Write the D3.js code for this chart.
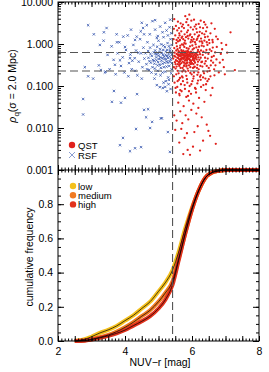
<!DOCTYPE html>
<html>
<head>
<meta charset="utf-8">
<script src="https://cdn.jsdelivr.net/npm/d3@7"></script>
<style>
body { margin: 0; background: #fff; }
text { font-family: "Liberation Sans", Arial, sans-serif; }
</style>
</head>
<body>
<div id="chart"></div>
<script>
// quiescent (QST) galaxies: [NUV-r, rho_q]
let qstPoints = [
  [5.48,0.62],[5.52,0.41],[5.55,0.88],[5.58,0.33],[5.61,0.55],[5.63,1.20],[5.66,0.27],[5.68,0.71],[5.71,0.45],[5.74,0.95],
  [5.76,0.36],[5.79,0.58],[5.81,0.22],[5.84,0.80],[5.86,0.49],[5.89,1.35],[5.91,0.31],[5.94,0.63],[5.97,0.40],[5.99,0.19],
  [6.02,0.74],[6.05,0.52],[6.08,0.29],[6.11,0.98],[6.14,0.43],[6.17,0.66],[6.20,0.25],[6.24,0.57],[6.28,0.37],[5.46,0.28],
  [5.50,0.50],[5.53,1.05],[5.57,0.23],[5.60,0.68],[5.64,0.39],[5.67,0.52],[5.70,0.17],[5.73,0.61],[5.77,0.85],[5.80,0.34],
  [5.83,0.47],[5.87,0.26],[5.90,0.77],[5.93,0.54],[5.96,1.10],[6.00,0.35],[6.03,0.46],[6.06,0.21],[6.10,0.60],[6.13,0.83],
  [6.16,0.32],[6.19,0.48],[6.23,1.15],[6.27,0.70],[5.49,0.37],[5.54,0.58],[5.59,0.46],[5.62,0.30],[5.65,0.91],[5.69,0.59],
  [5.72,0.38],[5.75,0.24],[5.78,0.51],[5.82,0.67],[5.85,0.40],[5.88,0.56],[5.92,0.44],[5.95,0.28],[5.98,0.53],[6.01,0.92],
  [6.04,0.62],[6.07,0.39],[6.12,0.50],[6.15,0.27],[6.18,0.72],[6.22,0.42],[6.26,0.18],[5.47,0.80],[5.51,0.26],[5.56,0.47],
  [5.60,0.20],[5.63,0.64],[5.67,0.42],[5.70,0.98],[5.74,0.55],[5.77,0.31],[5.81,0.43],[5.84,0.58],[5.87,0.69],[5.90,0.45],
  [5.93,0.36],[5.97,0.66],[6.00,0.51],[6.04,0.33],[6.09,0.45],[6.13,0.58],[6.18,0.38],[6.21,0.86],[6.25,0.30],[5.53,0.70],
  [5.58,0.55],[5.62,0.43],[5.68,0.35],[5.73,0.48],[5.78,0.65],[5.83,0.29],[5.88,0.44],[5.92,0.60],[5.96,0.49],[6.02,0.42],
  [6.07,0.56],[5.85,0.53],[5.80,0.52],[5.90,0.50],[5.95,0.57],[5.75,0.44],[5.65,0.51],[5.70,0.66],[6.05,0.48],[5.86,0.36],
  [5.94,0.41],
  [5.44,0.45],[5.47,0.52],[5.51,0.33],[5.54,0.29],[5.57,0.75],[5.59,0.62],[5.61,0.37],[5.64,0.81],[5.66,0.58],[5.69,0.46],
  [5.72,0.27],[5.74,0.69],[5.76,0.53],[5.79,0.40],[5.81,1.02],[5.84,0.35],[5.86,0.62],[5.89,0.23],[5.91,0.52],[5.94,0.88],
  [5.97,0.34],[5.99,0.61],[6.03,0.27],[6.06,0.79],[6.09,0.36],[6.11,0.47],[6.14,1.25],[6.17,0.55],[6.19,0.21],[6.22,0.64],
  [6.26,0.47],[6.29,0.91],[6.31,0.29],[6.34,0.66],[6.37,1.20],[6.41,0.39],[6.43,0.72],[6.46,0.22],[6.49,0.58],[6.52,1.05],
  [6.56,0.31],[6.59,0.49],[6.62,0.82],[6.66,0.25],[6.69,0.63],[6.73,0.43],[6.77,1.30],[6.83,0.36],[6.90,0.75],[6.95,0.28],
  [5.53,0.19],[5.64,0.155],[5.71,0.22],[5.83,0.175],[5.95,0.205],[6.04,0.15],[6.16,0.185],[6.24,0.165],[6.36,0.20],[6.53,0.23],
  [5.56,0.39],[5.67,0.44],[5.77,0.47],[5.85,0.44],[5.97,0.38],[6.06,0.41],[5.61,0.52],[5.71,0.55],[5.82,0.60],[5.89,0.65],
  [6.01,0.58],[6.11,0.53],[5.64,0.33],[5.76,0.30],[5.84,0.31],[5.96,0.33],[6.07,0.28],
  [5.50,1.6],[5.56,2.1],[5.62,1.8],[5.66,3.1],[5.71,1.5],[5.76,2.4],[5.80,4.6],[5.85,1.9],[5.89,2.8],[5.93,1.6],
  [5.98,3.6],[6.03,2.2],[6.08,1.7],[6.12,2.9],[6.18,1.5],[6.24,2.5],[6.30,1.8],[6.36,3.3],[6.42,2.0],[5.52,2.7],
  [5.59,1.4],[5.68,2.0],[5.74,1.3],[5.83,3.3],[5.96,2.5],[6.05,1.3],[6.15,1.9],[6.27,1.35],[6.47,1.5],[5.47,3.9],
  [5.92,5.0],[5.64,1.25],[6.20,3.0],[6.33,2.4],[5.78,1.7],[6.00,1.45],
  [5.58,1.15],[5.69,1.40],[5.79,1.20],[5.87,1.55],[5.98,1.25],[6.09,1.10],[6.21,1.60],[6.29,1.15],[6.39,1.45],[6.55,1.8],
  [6.68,2.3],[5.45,1.3],[5.73,2.9],[6.06,3.8],[6.40,2.9],[6.62,1.1],[5.61,2.4],[6.13,2.3],
  [5.46,2.3],[5.54,1.25],[5.63,1.6],[5.70,2.6],[5.77,1.05],[5.82,1.45],[5.88,2.1],[5.95,1.7],[6.02,1.15],[6.08,2.6],
  [6.16,1.35],[6.23,1.95],[6.31,1.05],[6.37,1.7],[6.45,2.5],[6.51,1.25],[6.58,3.1],[5.58,3.4],[5.86,3.9],[6.26,3.6],
  [6.32,0.55],[6.35,0.88],[6.38,0.34],[6.41,0.62],[6.44,1.1],[6.47,0.45],[6.50,0.27],[6.53,0.74],[6.57,0.40],[6.61,1.25],
  [6.65,0.52],[6.70,0.31],[6.74,0.85],[6.80,0.21],[6.86,0.58],[6.92,0.42],[6.98,0.19],[7.05,0.62],[7.15,1.9],[7.28,0.24],
  [6.34,0.22],[6.40,0.15],[6.46,0.95],[6.55,0.17],[6.63,0.36],[6.72,1.5],[6.39,0.47],[6.58,0.68],[6.88,1.05],[6.30,0.38],
  [6.44,0.30],[7.02,0.95],
  [5.46,0.17],[5.51,0.09],[5.57,0.13],[5.65,0.08],[5.72,0.16],[5.78,0.105],[5.85,0.145],[5.91,0.075],[5.98,0.11],[6.05,0.17],
  [6.11,0.085],[6.18,0.135],[6.27,0.095],[6.33,0.16],[6.42,0.11],[6.50,0.145],[6.61,0.09],[6.67,0.18],[5.62,0.065],[5.88,0.058],
  [5.48,0.12],[5.56,0.095],[5.61,0.14],[5.67,0.11],[5.73,0.13],[5.79,0.085],[5.86,0.12],[5.93,0.10],[6.01,0.13],[6.09,0.09],
  [6.16,0.115],[6.26,0.14],[6.34,0.105],[6.46,0.13],[5.52,0.07],[5.63,0.06],[5.69,0.075],[5.83,0.055],[5.97,0.065],[6.12,0.07],
  [6.21,0.052],[6.41,0.08],[6.56,0.06],[5.59,0.04],[5.75,0.033],[5.91,0.045],[6.04,0.038],[6.19,0.03],[6.37,0.042],[5.65,0.025],
  [5.81,0.02],[5.98,0.027],[6.13,0.022],[6.29,0.018],[5.54,0.015],[5.71,0.013],[5.89,0.016],[6.17,0.011],[6.44,0.012],[5.50,0.009],
  [5.68,0.0095],[5.85,0.0075],[6.07,0.008],[6.54,0.0065],[5.78,0.0058],[6.33,0.005],[5.62,0.0045],[6.03,0.0036],[6.71,0.0042],[5.87,0.003],
  [6.24,0.0029],[5.74,0.0024],[5.94,0.0023],[6.49,0.0085],[5.47,0.02]
]

// red star-forming (RSF) galaxies: [NUV-r, rho_q]
let rsfPoints = [
  [5.38,0.45],[5.35,0.78],[5.32,0.30],[5.30,0.58],[5.27,1.05],[5.25,0.38],[5.22,0.66],[5.20,0.22],[5.17,0.50],[5.15,0.92],
  [5.12,0.34],[5.10,0.61],[5.07,0.27],[5.05,0.75],[5.02,0.44],[5.00,1.20],[4.97,0.31],[4.95,0.56],[4.92,0.19],[4.90,0.70],
  [4.87,0.40],[4.85,0.95],[4.82,0.28],[4.80,0.52],[4.77,0.36],[4.75,0.82],[4.72,0.24],[4.70,0.47],[4.67,1.10],[4.64,0.33],
  [4.61,0.60],[5.39,0.25],[5.36,1.3],[5.33,0.50],[5.29,0.16],[5.26,0.72],[5.23,0.43],[5.19,0.85],[5.16,0.28],[5.13,0.55],
  [5.09,0.40],[5.06,0.18],[5.03,0.64],[4.99,0.37],[4.96,0.86],[4.93,0.48],[4.89,0.26],[4.86,0.63],[4.83,0.42],[4.79,0.21],
  [4.76,0.58],[4.73,0.39],[4.69,0.68],[4.66,0.25],[5.37,0.62],[5.34,0.38],[5.31,0.88],[5.28,0.47],[5.24,0.29],[5.21,0.55],
  [5.18,0.36],[5.14,0.72],[5.11,0.46],[5.08,0.98],[5.04,0.32],[5.01,0.53],[4.98,0.23],[4.94,0.41],[4.91,0.58],[4.88,0.34],
  [5.40,0.35],[5.40,0.55],[5.39,0.95],[5.38,0.20],[5.36,0.42],[5.34,0.68],[5.31,0.14],[5.28,0.36],[5.25,0.52],[5.22,0.13],
  [5.18,0.44],[5.12,0.21],[5.05,0.48],[4.98,0.62],[4.88,0.15],
  [5.30,0.11],[5.20,0.095],[5.36,0.085],[5.15,0.12],[4.95,0.105],[5.25,0.075],
  [4.58,0.45],[4.55,0.82],[4.52,0.28],[4.48,0.60],[4.45,1.30],[4.41,0.38],[4.37,0.18],[4.33,0.70],[4.29,0.46],[4.25,0.95],
  [4.20,0.25],[4.16,0.56],[4.12,0.35],[4.08,1.6],[4.03,0.72],[3.98,0.21],[3.93,0.48],[3.88,0.30],[3.83,1.1],[3.78,0.60],
  [3.72,0.19],[3.66,0.42],[3.60,0.88],[3.54,0.25],[3.48,0.55],[3.42,0.22],[3.36,1.2],[3.22,0.31],[4.50,0.15],[4.40,0.62],
  [4.30,0.23],[4.22,0.40],[4.10,0.17],[3.95,1.5],[3.85,0.41],[3.70,0.32],[4.57,1.7],[4.47,2.0],[4.35,1.5],[4.18,2.2],
  [3.75,1.7],[3.45,2.4],
  [5.38,1.8],[5.33,2.5],[5.28,1.6],[5.20,3.2],[5.12,1.9],[5.05,2.6],[4.98,1.55],[4.90,2.2],[4.82,3.5],[4.74,1.7],
  [4.65,2.8],[5.35,3.8],[5.15,1.45],[4.95,1.4],[5.24,2.1],
  [2.90,2.8],[3.07,1.7],[3.37,1.9],[3.25,0.95],[2.80,0.28],[3.28,0.24],[2.90,0.17],[3.05,0.15],[3.40,0.21],[3.76,1.1],
  [4.00,0.85],[4.30,1.25],[4.50,3.2],[4.54,2.4],[4.90,3.7],[4.15,0.46],
  [2.75,0.049],[2.75,0.021],[3.67,0.076],[3.61,0.042],[3.88,0.040],[4.00,0.052],[4.36,0.064],[4.57,0.027],[4.69,0.028],[4.63,0.018],
  [4.81,0.014],[4.75,0.010],[4.33,0.0095],[3.94,0.0058],[3.85,0.0039],[4.15,0.0028],[4.30,0.0033],[4.48,0.0035],[5.07,0.017],[5.04,0.094],
  [5.13,0.090],[5.10,0.017],[5.28,0.0080],[5.34,0.0027]
]

// cumulative NUV-r distributions for three density bins
let cumX      = [2.5, 2.8, 3.0, 3.25, 3.5, 3.75, 4.0, 4.25, 4.5, 4.75, 5.0, 5.2, 5.42, 5.6, 5.8, 6.0, 6.2, 6.4, 6.6, 6.8, 7.0, 7.5, 8.0]
let cumLow    = [0, 0.010, 0.025, 0.047, 0.065, 0.088, 0.119, 0.150, 0.190, 0.230, 0.290, 0.340, 0.415, 0.520, 0.660, 0.780, 0.880, 0.955, 0.985, 0.995, 1, 1, 1]
let cumMedium = [0, 0.004, 0.010, 0.022, 0.035, 0.055, 0.080, 0.110, 0.145, 0.180, 0.230, 0.280, 0.350, 0.480, 0.630, 0.770, 0.880, 0.955, 0.985, 0.995, 1, 1, 1]
let cumHigh   = [0, 0.002, 0.008, 0.018, 0.030, 0.045, 0.064, 0.090, 0.115, 0.145, 0.190, 0.240, 0.330, 0.470, 0.630, 0.770, 0.880, 0.955, 0.985, 0.995, 1, 1, 1]

let colorCut = 5.42
let rhoCuts = [0.63, 0.227]
let rhoTicks = [0.001, 0.01, 0.1, 1, 10]
let cumTicks = [0, 0.2, 0.4, 0.6, 0.8]
let xTicks = [2, 4, 6, 8]

let width = 269, height = 372
let plotL = 58, plotR = 259, plotT = 2, plotM = 170, plotB = 341

let svg = d3.select('#chart').append('svg')
    .attr('width', width)
    .attr('height', height)

let x = d3.scaleLinear().domain([2, 8]).range([plotL, plotR])
let yRho = d3.scaleLog().domain([0.001, 10]).range([plotM, plotT])
let yCum = d3.scaleLinear().domain([0, 1]).range([plotB, plotM])

// scatter: RSF crosses, then QST dots
svg.append('g').selectAll('path')
  .data(rsfPoints)
  .enter()
  .append('path')
    .attr('transform', d => `translate(${x(d[0])},${yRho(d[1])})`)
    .attr('d', 'M-1.2,-1.2L1.2,1.2M-1.2,1.2L1.2,-1.2')
    .attr('stroke', '#3354ad')
    .attr('stroke-width', 0.8)

svg.append('g').selectAll('circle')
  .data(qstPoints)
  .enter()
  .append('circle')
    .attr('cx', d => x(d[0]))
    .attr('cy', d => yRho(d[1]))
    .attr('r', 1.15)
    .attr('fill', '#e0211c')

// cumulative curves: thick coloured band with a thin black line on top
let series = [
  {name: 'low', vals: cumLow, color: '#f4c01c'},
  {name: 'medium', vals: cumMedium, color: '#f07a22'},
  {name: 'high', vals: cumHigh, color: '#e2321c'}
]
let line = d3.line()
  .x(d => x(d[0]))
  .y(d => yCum(d[1]))
  .curve(d3.curveMonotoneX)

series.forEach(s => {
  svg.append('path')
    .datum(cumX.map((v, i) => [v, s.vals[i]]))
    .attr('d', line)
    .attr('fill', 'none')
    .attr('stroke', s.color)
    .attr('stroke-width', 4)
})
series.forEach(s => {
  svg.append('path')
    .datum(cumX.map((v, i) => [v, s.vals[i]]))
    .attr('d', line)
    .attr('fill', 'none')
    .attr('stroke', '#000')
    .attr('stroke-width', 0.7)
})

// dashed cut lines
let dash = '8,4'
svg.append('line')
  .attr('x1', x(colorCut)).attr('x2', x(colorCut))
  .attr('y1', plotT).attr('y2', plotB)
  .attr('stroke', '#555').attr('stroke-width', 1.1).attr('stroke-dasharray', dash)
svg.selectAll('hcut')
  .data(rhoCuts)
  .enter()
  .append('line')
    .attr('x1', plotL).attr('x2', plotR)
    .attr('y1', d => yRho(d)).attr('y2', d => yRho(d))
    .attr('stroke', '#555').attr('stroke-width', 1.1).attr('stroke-dasharray', dash)

// axes (ticks point inward)
function tidy(g) {
  g.select('.domain').remove()
  g.selectAll('text').style('font-size', '10.5px').style('font-family', '"Liberation Sans", Arial, sans-serif')
}
let xMajor = d3.range(2, 8.01, 0.5)
let xMinor = d3.range(2, 8.01, 0.1)
let rhoMinor = []
;[0.001, 0.01, 0.1, 1].forEach(d => { for (let m = 2; m <= 9; m++) rhoMinor.push(d * m) })
let cumMinor = d3.range(0, 1.001, 0.05)
let cumMajor = d3.range(0, 1.001, 0.2)

// horizontal edges
;[[plotT, d3.axisTop], [plotM, d3.axisBottom], [plotM, d3.axisTop], [plotB, d3.axisBottom]].forEach(([yy, ax]) => {
  svg.append('g').attr('transform', `translate(0,${yy})`)
    .call(ax(x).tickValues(xMinor).tickSizeInner(-2.5).tickSizeOuter(0).tickFormat(''))
    .call(tidy)
  svg.append('g').attr('transform', `translate(0,${yy})`)
    .call(ax(x).tickValues(xMajor).tickSizeInner(-5).tickSizeOuter(0).tickFormat(''))
    .call(tidy)
})
svg.append('g').attr('transform', `translate(0,${plotB})`)
  .call(d3.axisBottom(x).tickValues(xTicks).tickSize(0).tickPadding(7).tickFormat(d3.format('d')))
  .call(tidy)

// vertical edges
;[[plotL, d3.axisLeft], [plotR, d3.axisRight]].forEach(([xx, ax]) => {
  svg.append('g').attr('transform', `translate(${xx},0)`)
    .call(ax(yRho).tickValues(rhoMinor).tickSizeInner(-3).tickSizeOuter(0).tickFormat(''))
    .call(tidy)
  svg.append('g').attr('transform', `translate(${xx},0)`)
    .call(ax(yRho).tickValues(rhoTicks).tickSizeInner(-6).tickSizeOuter(0).tickFormat(''))
    .call(tidy)
  svg.append('g').attr('transform', `translate(${xx},0)`)
    .call(ax(yCum).tickValues(cumMinor).tickSizeInner(-3).tickSizeOuter(0).tickFormat(''))
    .call(tidy)
  svg.append('g').attr('transform', `translate(${xx},0)`)
    .call(ax(yCum).tickValues(cumMajor).tickSizeInner(-6).tickSizeOuter(0).tickFormat(''))
    .call(tidy)
})
svg.append('g').attr('transform', `translate(${plotL},0)`)
  .call(d3.axisLeft(yRho).tickValues(rhoTicks).tickSize(0).tickPadding(5).tickFormat(d3.format('.3f')))
  .call(tidy)
svg.append('g').attr('transform', `translate(${plotL},0)`)
  .call(d3.axisLeft(yCum).tickValues(cumTicks).tickSize(0).tickPadding(5).tickFormat(d3.format('.1f')))
  .call(tidy)

// frame
svg.append('rect')
  .attr('x', plotL).attr('y', plotT)
  .attr('width', plotR - plotL).attr('height', plotB - plotT)
  .attr('fill', 'none').attr('stroke', '#000').attr('stroke-width', 1)
svg.append('line')
  .attr('x1', plotL).attr('x2', plotR).attr('y1', plotM).attr('y2', plotM)
  .attr('stroke', '#000').attr('stroke-width', 1)

// axis titles
let ylab = svg.append('text')
  .attr('transform', 'translate(16,86) rotate(-90)')
  .attr('text-anchor', 'middle')
  .style('font-size', '10.5px')
ylab.append('tspan').text('ρ').style('font-style', 'italic')
ylab.append('tspan').text('q').attr('dy', 3).style('font-size', '8px')
ylab.append('tspan').text('(σ = 2.0 Mpc)').attr('dy', -3)

svg.append('text')
  .attr('transform', 'translate(33,257) rotate(-90)')
  .attr('text-anchor', 'middle')
  .style('font-size', '10.5px')
  .text('cumulative frequency')

svg.append('text')
  .attr('x', 160).attr('y', 366)
  .attr('text-anchor', 'middle')
  .style('font-size', '10.5px')
  .text('NUV−r [mag]')

// legends
let legTop = svg.append('g')
legTop.append('circle').attr('cx', 72).attr('cy', 145).attr('r', 3.2).attr('fill', '#e0211c')
legTop.append('text').attr('x', 78).attr('y', 148.5).style('font-size', '9.5px').text('QST')
legTop.append('path').attr('transform', 'translate(72,155)')
  .attr('d', 'M-3,-3L3,3M-3,3L3,-3').attr('stroke', '#8c9fd2').attr('stroke-width', 1)
legTop.append('text').attr('x', 78).attr('y', 158.5).style('font-size', '9.5px').text('RSF')

let legBot = svg.append('g')
series.forEach((s, i) => {
  legBot.append('circle').attr('cx', 73).attr('cy', 186 + i * 9.2).attr('r', 3.2).attr('fill', s.color)
  legBot.append('text').attr('x', 78).attr('y', 189.5 + i * 9.2).style('font-size', '9.5px').text(s.name)
})
</script>
</body>
</html>
